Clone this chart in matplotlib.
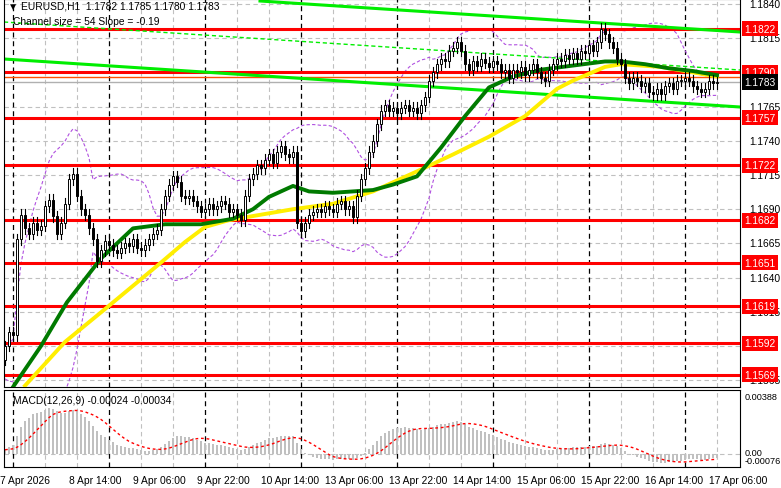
import numpy as np
import matplotlib
matplotlib.use("Agg")
import matplotlib.pyplot as plt
from matplotlib.patches import Rectangle

plt.rcParams['font.family'] = ['Liberation Sans', 'DejaVu Sans']

closes = [1.1590, 1.1600, 1.1598, 1.1668, 1.1686, 1.1676, 1.1672, 1.1680, 1.1675, 1.1678,
          1.1692, 1.1697, 1.1685, 1.1672, 1.1680, 1.1694, 1.1712, 1.1716, 1.1700, 1.1690,
          1.1686, 1.1676, 1.1668, 1.1652, 1.1660, 1.1667, 1.1664, 1.1660, 1.1658, 1.1662,
          1.1665, 1.1663, 1.1668, 1.1662, 1.1660, 1.1664, 1.1668, 1.1672, 1.1675, 1.1690,
          1.1700, 1.1708, 1.1714, 1.1710, 1.1700, 1.1698, 1.1700, 1.1696, 1.1692, 1.1688,
          1.1690, 1.1694, 1.1690, 1.1692, 1.1696, 1.1694, 1.1688, 1.1690, 1.1686, 1.1682,
          1.1700, 1.1712, 1.1716, 1.1722, 1.1720, 1.1726, 1.1730, 1.1724, 1.1732, 1.1736,
          1.1730, 1.1728, 1.1732, 1.1680, 1.1674, 1.1680, 1.1686, 1.1688, 1.1690, 1.1688,
          1.1692, 1.1690, 1.1688, 1.1694, 1.1696, 1.1690, 1.1692, 1.1684, 1.1700, 1.1712,
          1.1720, 1.1732, 1.1740, 1.1752, 1.1762, 1.1766, 1.1762, 1.1764, 1.1760, 1.1764,
          1.1766, 1.1762, 1.1764, 1.1760, 1.1766, 1.1772, 1.1784, 1.1790, 1.1796, 1.1800,
          1.1798, 1.1806, 1.1808, 1.1812, 1.1806, 1.1796, 1.1792, 1.1798, 1.1795, 1.1800,
          1.1797, 1.1794, 1.1798, 1.1796, 1.1790, 1.1792, 1.1786, 1.1792, 1.1790, 1.1794,
          1.1788, 1.1792, 1.1796, 1.1790, 1.1786, 1.1784, 1.1792, 1.1796, 1.1800, 1.1798,
          1.1803, 1.1800, 1.1804, 1.1800, 1.1806, 1.1804, 1.1810, 1.1806, 1.1812, 1.1822,
          1.1818, 1.1812, 1.1808, 1.1800, 1.1796, 1.1786, 1.1782, 1.1786, 1.1784, 1.1780,
          1.1782, 1.1776, 1.1774, 1.1778, 1.1774, 1.1780, 1.1782, 1.1778, 1.1784, 1.1784,
          1.1786, 1.1784, 1.1780, 1.1778, 1.1776, 1.1778, 1.1784, 1.1782, 1.1783]
first_open = 1.1580
prior_closes = [1.1565, 1.1568, 1.1570, 1.1566, 1.1572, 1.1575, 1.1570, 1.1568, 1.1572, 1.1574,
                1.1570, 1.1566, 1.1569, 1.1573, 1.1576, 1.1572, 1.1570, 1.1574, 1.1578, 1.1575,
                1.1572, 1.1576, 1.1578, 1.1580, 1.1577, 1.1579, 1.1582, 1.1580, 1.1578, 1.1580]

green_ma_bars = [2, 9, 15.5, 24, 32, 40, 49, 57, 62, 66, 72, 76, 82, 92, 97, 103, 109, 115,
                 121, 127, 134, 142, 150, 154, 160, 166, 172, 178]
green_ma_vals = [1.1560, 1.1590, 1.1622, 1.1654, 1.1676, 1.1679, 1.1679, 1.1683, 1.1690, 1.1699,
                 1.1707, 1.1703, 1.1702, 1.1704, 1.1708, 1.1714, 1.1735, 1.1758, 1.1779, 1.1787,
                 1.1792, 1.1795, 1.1798, 1.1798, 1.1796, 1.1793, 1.1791, 1.1788]
yellow_ma_bars = [5, 15, 25, 32, 39, 45, 50, 56, 62, 72, 82, 92, 98, 104, 112, 121, 130, 134,
                  138, 142, 146, 150, 154, 164, 172, 178]
yellow_ma_vals = [1.1561, 1.1593, 1.1617, 1.1634, 1.1651, 1.1666, 1.1677, 1.1682, 1.1685, 1.1690,
                  1.1694, 1.1703, 1.1711, 1.1719, 1.1730, 1.1743, 1.1758, 1.1768, 1.1778, 1.1784,
                  1.1789, 1.1794, 1.1796, 1.1794, 1.1790, 1.1787]

levels = [1.1822, 1.1790, 1.1757, 1.1722, 1.1682, 1.1651, 1.1619, 1.1592, 1.1569]
price_ticks = [1.1840, 1.1815, 1.1765, 1.1740, 1.1715, 1.1690, 1.1665, 1.1640, 1.1615, 1.1565]
xlabels = ["7 Apr 2026", "8 Apr 14:00", "9 Apr 06:00", "9 Apr 22:00", "10 Apr 14:00",
           "13 Apr 06:00", "13 Apr 22:00", "14 Apr 14:00", "15 Apr 06:00", "15 Apr 22:00",
           "16 Apr 14:00", "17 Apr 06:00"]
xlabel_bars = [0, 16, 32, 48, 64, 80, 96, 112, 128, 144, 160, 176]
day_bars = [2, 26, 50, 74, 98, 122, 146, 170]

W, H = 781, 489
fig = plt.figure(figsize=(W/100, H/100), dpi=100)
def px(x0, y0, x1, y1):
    return [x0/W, 1-y1/H, (x1-x0)/W, (y1-y0)/H]
ax = fig.add_axes(px(4, 0, 740, 388))
am = fig.add_axes(px(4, 391, 740, 468))

xmin, xmax = -0.25, (740-5)/4
ymin, ymax = 1.1840 - (388-5)*0.0000731, 1.1840 + 5*0.0000731
FS = 7.4

c = np.array(closes)
n = len(c)
o = np.concatenate([[first_open], c[:-1]])
for a in (ax, am):
    a.set_xlim(xmin, xmax)
    a.tick_params(left=False, bottom=False, labelleft=False, labelbottom=False)
ax.set_ylim(ymin, ymax)

for t in price_ticks + [1.1790, 1.1590]:
    ax.axhline(t, color="#c0c0c0", lw=0.8, ls=(0, (4, 3)), zorder=0)
for b in range(-6, n + 20, 8):
    if b not in day_bars:
        for a in (ax, am):
            a.axvline(b, color="#c0c0c0", lw=0.8, ls=(0, (4, 3)), zorder=0)
for b in day_bars:
    for a in (ax, am):
        a.axvline(b, color="black", lw=0.9, ls=(0, (4, 3)), zorder=0.5)

for lv in levels:
    ax.axhline(lv, color="#ff0000", lw=2.2, zorder=2)
ax.axhline(1.1787, color="#ff5000", lw=1, zorder=2)
ax.axhline(closes[-1], color="#b0b0b0", lw=1, zorder=1.5)

allc = np.concatenate([prior_closes, c])
mid = np.array([allc[i-19:i+1].mean() for i in range(19, len(allc))])
sd = np.array([allc[i-19:i+1].std() for i in range(19, len(allc))])
k = len(prior_closes) - 19
bi = np.arange(n)
for band in (mid + 2*sd, mid - 2*sd):
    ax.plot(bi, band[k:], color="#b050e0", lw=0.8, ls=(0, (3, 2)), zorder=1)

def pxy(xp, yp):
    return (xp-5)/4, 1.1840 - (yp-5)*0.0000731
for (p0, p1, solid) in [((260, 2), (740, 33), True), ((4, 60), (740, 108), True), ((4, 23), (740, 71), False)]:
    a0, a1 = pxy(*p0), pxy(*p1)
    ax.plot([a0[0], a1[0]], [a0[1], a1[1]], color="#00ee00", lw=2.2 if solid else 1,
            ls="-" if solid else (0, (3, 2)), zorder=2.5)

ax.plot(yellow_ma_bars, yellow_ma_vals, color="#ffee00", lw=2.8, zorder=3, solid_joinstyle="round")
ax.plot(green_ma_bars, green_ma_vals, color="#007a00", lw=2.8, zorder=3.1, solid_joinstyle="round")

for i in range(n):
    hi = max(o[i], c[i]) + 0.0004
    lo = min(o[i], c[i]) - 0.0004
    ax.plot([i, i], [lo, hi], color="black", lw=0.8, zorder=4)
    body = abs(c[i]-o[i]) or 0.00003
    ax.add_patch(Rectangle((i-0.35, min(o[i], c[i])), 0.7, body,
                           facecolor="white" if c[i] >= o[i] else "black",
                           edgecolor="black", lw=0.7, zorder=5))

tr = ax.get_yaxis_transform()
for t in price_ticks:
    ax.text(1.012, t, f"{t:.4f}", transform=tr, va="center", ha="left", fontsize=FS, clip_on=False)
for lv in levels:
    ax.text(1.006, lv, f"{lv:.4f}", transform=tr, va="center", ha="left", fontsize=FS,
            color="white", clip_on=False,
            bbox=dict(boxstyle="square,pad=0.25", fc="#ff0000", ec="none"))
ax.text(1.006, closes[-1], f"{closes[-1]:.4f}", transform=tr, va="center", ha="left", fontsize=FS,
        color="white", clip_on=False, zorder=10,
        bbox=dict(boxstyle="square,pad=0.25", fc="black", ec="none"))

ax.text(0.006, 0.995, "\u25bc EURUSD,H1  1.1782 1.1785 1.1780 1.1783", transform=ax.transAxes,
        fontsize=FS, va="top")
ax.text(0.012, 0.955, "Channel size = 54 Slope = -0.19", transform=ax.transAxes, fontsize=FS, va="top")

def ema(x, p):
    out = np.empty_like(x); a = 2/(p+1); out[0] = x[0]
    for i in range(1, len(x)):
        out[i] = a*x[i] + (1-a)*out[i-1]
    return out
macd = ema(allc, 12) - ema(allc, 26)
sig = np.array([macd[max(0, i-8):i+1].mean() for i in range(len(macd))])
mm, ss = macd[len(prior_closes):], sig[len(prior_closes):]
am.set_ylim(-0.00087, 0.0043)
am.bar(bi, mm, width=0.7, color="#c0c0c0", zorder=2)
am.plot(bi, ss, color="#ff0000", lw=1, ls=(0, (2, 2)), zorder=3)
am.axhline(0, color="#c0c0c0", lw=0.8, ls=(0, (4, 3)), zorder=0)
am.text(0.012, 0.93, "MACD(12,26,9) -0.00024 -0.00034", transform=am.transAxes,
        fontsize=FS, va="top")
tm = am.get_yaxis_transform()
for t, lab in [(0.00388, "0.00388"), (0.0001, "0.00"), (-0.00045, "-0.00076")]:
    am.text(1.006, t, lab, transform=tm, va="center", ha="left", fontsize=6.6, clip_on=False)

tx = am.get_xaxis_transform()
for b, lab in zip(xlabel_bars, xlabels):
    am.text(b - (1.25 if b == 0 else 0), -0.1, lab, transform=tx, ha="left", va="top",
            fontsize=FS, clip_on=False)

fig.savefig("out.png", dpi=100)
